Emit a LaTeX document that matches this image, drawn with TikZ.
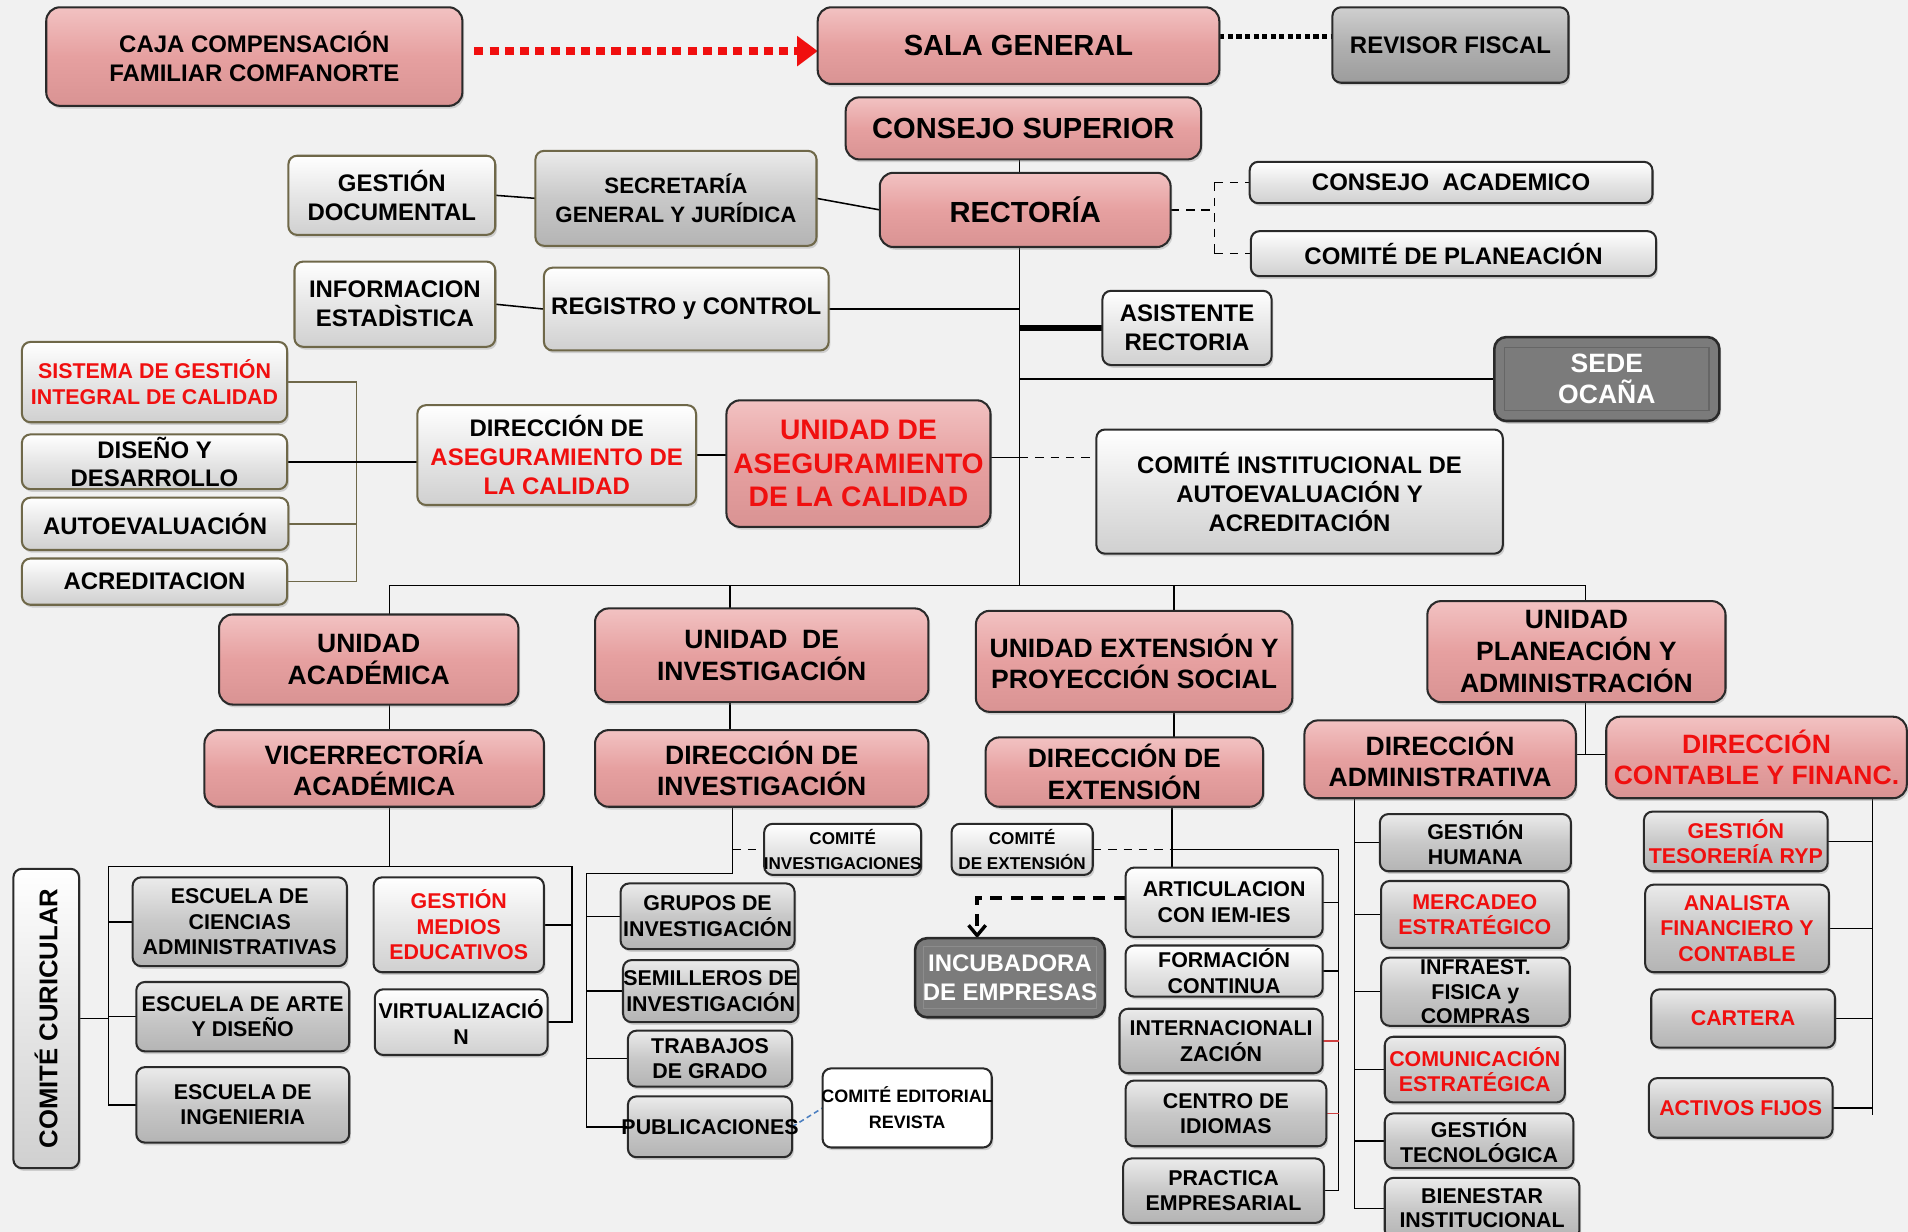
\documentclass[tikz,border=0pt]{standalone}
\usepackage{fontspec}
\setmainfont{Liberation Sans}
\usetikzlibrary{arrows.meta,shadows}
\definecolor{pinkT}{HTML}{F2C2C2}
\definecolor{pinkF}{HTML}{E6A0A0}
\definecolor{pinkB}{HTML}{D99393}
\definecolor{grayT}{HTML}{EBEBEB}
\definecolor{grayF}{HTML}{C8C8C8}
\definecolor{grayB}{HTML}{B4B4B4}
\definecolor{liteT}{HTML}{FFFFFF}
\definecolor{liteF}{HTML}{E6E6E6}
\definecolor{liteB}{HTML}{D0D0D0}
\definecolor{midT}{HTML}{CFCFCF}
\definecolor{midF}{HTML}{B0B0B0}
\definecolor{midB}{HTML}{9C9C9C}
\definecolor{darkF}{HTML}{7B7B7B}
\definecolor{bord}{HTML}{2A2A2A}
\definecolor{olv}{HTML}{6F6849}
\definecolor{txtred}{HTML}{F00F0F}
\definecolor{bgc}{HTML}{F1F1F1}
\definecolor{lnblue}{HTML}{4A7EC0}
\definecolor{lnred}{HTML}{D04040}
\pgfdeclarelayer{back}
\pgfsetlayers{back,main}
\tikzset{
  x=0.025cm, y=-0.025cm,
  boxbase/.style={draw=bord, line width=1.2pt, rounded corners=5pt, inner sep=0pt, outer sep=0pt,
     drop shadow={shadow xshift=1pt, shadow yshift=-1.6pt, opacity=0.3}},
  pinkbox/.style={boxbase, top color=pinkT, bottom color=pinkB, middle color=pinkF, rounded corners=8pt},
  graybox/.style={boxbase, top color=grayT, bottom color=grayB, middle color=grayF},
  litebox/.style={boxbase, top color=liteT, bottom color=liteB, middle color=liteF},
  midbox/.style={boxbase, top color=midT, bottom color=midB, middle color=midF},
  whitebox/.style={boxbase, fill=white},
  darkbox/.style={boxbase, fill=darkF, line width=1.5pt, rounded corners=7pt},
  olvb/.style={draw=olv},
  lbl/.style={align=center, inner sep=0pt},
  rt/.style={text=txtred},
  wt/.style={text=white},
  t17/.style={font=\fontsize{17}{20}\selectfont\bfseries},
  t16/.style={font=\fontsize{16}{19.5}\selectfont\bfseries},
  t155/.style={font=\fontsize{15.5}{18.5}\selectfont\bfseries},
  t15/.style={font=\fontsize{15}{18}\selectfont\bfseries},
  t14/.style={font=\fontsize{14}{17}\selectfont\bfseries},
  t13/.style={font=\fontsize{13}{17}\selectfont\bfseries},
  t125/.style={font=\fontsize{12.5}{14.8}\selectfont\bfseries},
  t105/.style={font=\fontsize{10.5}{15}\selectfont\bfseries},
  t10/.style={font=\fontsize{10}{15}\selectfont\bfseries},
  ln/.style={line width=0.9pt, draw=black},
  oln/.style={line width=0.9pt, draw=olv},
  dsh/.style={line width=0.9pt, draw=black, dash pattern=on 5pt off 4pt},
  dshthick/.style={line width=2pt, draw=black, dash pattern=on 7pt off 5pt},
}
\newcommand\mkbox[8]{%
  \node[#2, minimum width={(#5-#3)*0.025cm}, minimum height={(#6-#4)*0.025cm}] (#1) at ({(#3+#5)/2},{(#4+#6)/2}) {};
  \node[lbl,#7] at (#1.center) {#8};}
\begin{document}
\begin{tikzpicture}
\useasboundingbox (0,0) rectangle (1568,1012.4);
\begin{pgfonlayer}{back}
\fill[bgc] (0,0) rectangle (1568,1012.4);
\end{pgfonlayer}
% top
\mkbox{caja}{pinkbox}{38}{6}{380}{87}{t14}{CAJA COMPENSACIÓN\\FAMILIAR COMFANORTE}
\mkbox{sala}{pinkbox}{672}{6}{1002}{69}{t17}{SALA GENERAL}
\mkbox{rev}{midbox}{1095}{6}{1289}{68}{t14}{REVISOR FISCAL}
\mkbox{consup}{pinkbox}{695}{80}{987}{131}{t17}{CONSEJO SUPERIOR}
\mkbox{rect}{pinkbox}{723}{142}{962}{203}{t17}{RECTORÍA}
\mkbox{gdoc}{litebox,olvb}{237}{128}{407}{193}{t14}{GESTIÓN\\DOCUMENTAL}
\mkbox{sec}{graybox,olvb}{440}{124}{671}{202}{t13}{SECRETARÍA\\GENERAL Y JURÍDICA}
\mkbox{infest}{litebox,olvb}{242}{215}{407}{285}{t14}{INFORMACION\\ESTADÌSTICA}
\mkbox{regctl}{litebox,olvb}{447}{220}{681}{288}{t14}{REGISTRO y CONTROL}
\mkbox{consac}{litebox}{1027}{133}{1358}{167}{t14}{CONSEJO\ \ ACADEMICO}
\mkbox{complan}{litebox}{1028}{190}{1361}{227}{t14}{COMITÉ DE PLANEACIÓN}
\mkbox{asis}{litebox}{906}{239}{1045}{300}{t14}{ASISTENTE\\RECTORIA}
\mkbox{sede}{darkbox}{1228}{277}{1413}{346}{t155,wt}{SEDE\\OCAÑA}
\draw[draw=black!60, line width=0.8pt] ([shift={(6pt,-6pt)}]sede.north west) rectangle ([shift={(-6pt,6pt)}]sede.south east);
% quality
\mkbox{sgi}{litebox,olvb}{18}{281}{236}{347}{t125,rt}{SISTEMA DE GESTIÓN\\INTEGRAL DE CALIDAD}
\mkbox{dis}{litebox,olvb}{18}{357}{236}{402}{font=\fontsize{14}{16.4}\selectfont\bfseries}{DISEÑO Y\\DESARROLLO}
\mkbox{auto}{litebox,olvb}{18}{409}{237}{452}{t14}{AUTOEVALUACIÓN}
\mkbox{acr}{litebox,olvb}{18}{459}{236}{497}{t14}{ACREDITACION}
\mkbox{dasg}{litebox,olvb}{343}{333}{572}{415}{t14}{DIRECCIÓN DE\\\textcolor{txtred}{ASEGURAMIENTO DE}\\\textcolor{txtred}{LA CALIDAD}}
\mkbox{uasg}{pinkbox}{597}{329}{814}{433}{font=\fontsize{16.5}{19.6}\selectfont\bfseries,rt}{UNIDAD DE\\ASEGURAMIENTO\\DE LA CALIDAD}
\mkbox{cinst}{litebox}{901}{353}{1235}{455}{t14}{COMITÉ INSTITUCIONAL DE\\AUTOEVALUACIÓN Y\\ACREDITACIÓN}
% units
\mkbox{uaca}{pinkbox}{180}{505}{426}{579}{t155}{UNIDAD\\ACADÉMICA}
\mkbox{vic}{pinkbox}{168}{600}{447}{663}{t155}{VICERRECTORÍA\\ACADÉMICA}
\mkbox{uinv}{pinkbox}{489}{500}{763}{577}{t155}{UNIDAD\ \ DE\\INVESTIGACIÓN}
\mkbox{dinv}{pinkbox}{489}{600}{763}{663}{t155}{DIRECCIÓN DE\\INVESTIGACIÓN}
\mkbox{uext}{pinkbox}{802}{502}{1062}{585}{t155}{UNIDAD EXTENSIÓN Y\\PROYECCIÓN SOCIAL}
\mkbox{dext}{pinkbox}{810}{606}{1038}{663}{t155}{DIRECCIÓN DE\\EXTENSIÓN}
\mkbox{uplan}{pinkbox}{1173}{494}{1418}{577}{t155}{UNIDAD\\PLANEACIÓN Y\\ADMINISTRACIÓN}
\mkbox{dadm}{pinkbox}{1072}{592}{1295}{656}{t155}{DIRECCIÓN\\ADMINISTRATIVA}
\mkbox{dcon}{pinkbox}{1320}{589}{1567}{656}{t155,rt}{DIRECCIÓN\\CONTABLE Y FINANC.}
% academic
\mkbox{ccur}{litebox}{11}{714}{65}{960}{t15,rotate=90}{COMITÉ CURICULAR}
\mkbox{cca}{graybox}{109}{721}{285}{794}{t125}{ESCUELA DE\\CIENCIAS\\ADMINISTRATIVAS}
\mkbox{arte}{graybox}{112}{807}{287}{864}{t125}{ESCUELA DE ARTE\\Y DISEÑO}
\mkbox{ing}{graybox}{112}{877}{287}{939}{t125}{ESCUELA DE\\INGENIERIA}
\mkbox{gme}{litebox}{307}{721}{447}{799}{t125,rt}{GESTIÓN\\MEDIOS\\EDUCATIVOS}
\mkbox{virt}{litebox}{308}{813}{450}{867}{t125}{VIRTUALIZACIÓ\\N}
% investigation
\mkbox{cinv}{litebox}{628}{677}{757}{719}{t10}{COMITÉ\\INVESTIGACIONES}
\mkbox{cext}{litebox}{782}{677}{898}{719}{t10}{COMITÉ\\DE EXTENSIÓN}
\mkbox{gru}{graybox}{510}{726}{653}{780}{t125}{GRUPOS DE\\INVESTIGACIÓN}
\mkbox{sem}{graybox}{512}{789}{656}{840}{t125}{SEMILLEROS DE\\INVESTIGACIÓN}
\mkbox{trab}{graybox}{516}{847}{651}{893}{t125}{TRABAJOS\\DE GRADO}
\mkbox{pub}{graybox}{516}{901}{651}{951}{t125}{PUBLICACIONES}
\mkbox{ced}{whitebox}{676}{878}{815}{943}{t105}{COMITÉ EDITORIAL\\REVISTA}
% extension
\mkbox{art}{litebox}{925}{713}{1087}{770}{t125}{ARTICULACION\\CON IEM-IES}
\mkbox{form}{litebox}{925}{777}{1087}{819}{t125}{FORMACIÓN\\CONTINUA}
\mkbox{intl}{graybox}{920}{829}{1087}{882}{t125}{INTERNACIONALI\\ZACIÓN}
\mkbox{cid}{graybox}{925}{888}{1090}{942}{t125}{CENTRO DE\\IDIOMAS}
\mkbox{prac}{graybox}{923}{952}{1088}{1005}{t125}{PRACTICA\\EMPRESARIAL}
\mkbox{inc}{darkbox}{752}{771}{908}{836}{t14,wt}{INCUBADORA\\DE EMPRESAS}
\draw[draw=black!45, line width=0.8pt] ([shift={(5pt,-5pt)}]inc.north west) rectangle ([shift={(-5pt,5pt)}]inc.south east);
% administration
\mkbox{gh}{graybox}{1134}{669}{1291}{716}{t125}{GESTIÓN\\HUMANA}
\mkbox{merc}{graybox}{1135}{724}{1289}{779}{t125,rt}{MERCADEO\\ESTRATÉGICO}
\mkbox{infr}{graybox}{1135}{787}{1290}{843}{font=\fontsize{12.5}{14.3}\selectfont\bfseries}{INFRAEST.\\FISICA y\\COMPRAS}
\mkbox{com}{graybox}{1138}{852}{1286}{906}{t125,rt}{COMUNICACIÓN\\ESTRATÉGICA}
\mkbox{gtec}{graybox}{1138}{915}{1293}{960}{t125}{GESTIÓN\\TECNOLÓGICA}
\mkbox{bien}{graybox}{1138}{968}{1298}{1018}{font=\fontsize{12.5}{14}\selectfont\bfseries}{BIENESTAR\\INSTITUCIONAL}
\mkbox{tes}{graybox}{1351}{667}{1502}{716}{t125,rt}{GESTIÓN\\TESORERÍA RYP}
\mkbox{ana}{graybox}{1352}{727}{1503}{799}{t125,rt}{ANALISTA\\FINANCIERO Y\\CONTABLE}
\mkbox{cart}{graybox}{1357}{813}{1508}{861}{t125,rt}{CARTERA}
\mkbox{act}{graybox}{1355}{886}{1506}{935}{t125,rt}{ACTIVOS FIJOS}
% coordinates
\coordinate (tk) at (838,0);
\coordinate (bus) at (838,481);
\coordinate (dv) at (998,0);
\coordinate (qb) at (293,0);
\coordinate (ql) at (0,376);
\coordinate (d1) at (320,481);
\coordinate (d2) at (600,481);
\coordinate (d3) at (965,481);
\coordinate (d4) at (1303,481);
\coordinate (ah) at (320,712);
\coordinate (aL) at (89,712);
\coordinate (aR) at (470,712);
\coordinate (iv) at (602,718);
\coordinate (iL) at (482,718);
\coordinate (eh) at (963,698);
\coordinate (eR) at (1100,698);
\coordinate (ia) at (803,738);
\coordinate (pj) at (1303,620);
\coordinate (av) at (1113,0);
\coordinate (cv) at (1539,0);
\coordinate (cvb) at (1539,916);
\coordinate (ry) at (0,42);
\coordinate (by) at (0,30);
\begin{pgfonlayer}{back}
\draw[txtred, line width=4.6pt, dash pattern=on 5.3pt off 3.6pt, -{Triangle[length=12pt,width=17pt]}] ([xshift=7pt]caja.east |- ry) -- (sala.west |- ry);
\draw[line width=3pt, dash pattern=on 3pt off 2pt] (sala.east |- by) -- (rev.west |- by);
\draw[ln] (consup.south -| tk) -- (rect.north -| tk);
\draw[ln] (rect.south -| tk) -- (bus);
\draw[ln] (gdoc.east) -- (sec.west);
\draw[ln] (sec.east) -- (rect.west);
\draw[ln] (infest.east) -- (regctl.west);
\draw[ln] (regctl.east) -- (regctl.east -| tk);
\draw[dsh] (rect.east) -- (rect.east -| dv);
\draw[dsh] (consac.west -| dv) -- (complan.west -| dv);
\draw[dsh] (consac.west -| dv) -- (consac.west);
\draw[dsh] (complan.west -| dv) -- (complan.west);
\draw[ln, line width=3pt] (asis.west -| tk) -- (asis.west);
\draw[ln] (sede.west -| tk) -- (sede.west);
\draw[oln] (sgi.east) -- (sgi.east -| qb) -- (acr.east -| qb) -- (acr.east);
\draw[oln] (auto.east) -- (auto.east -| qb);
\draw[ln, line width=1.4pt] (dis.east) -- (dis.east -| dasg.west);
\draw[ln] (dasg.east) -- (dasg.east -| uasg.west);
\draw[ln] (uasg.east |- ql) -- (tk |- ql);
\draw[dsh] (tk |- ql) -- (cinst.west |- ql);
\draw[ln] (d1) -- (d4);
\draw[ln] (d1) -- (d1 |- uaca.north);
\draw[ln] (d2) -- (d2 |- uinv.north);
\draw[ln] (d3) -- (d3 |- uext.north);
\draw[ln] (d4) -- (d4 |- uplan.north);
% academic
\draw[ln] (uaca.south -| d1) -- (vic.north -| d1);
\draw[ln] (vic.south -| d1) -- (ah);
\draw[ln] (aL) -- (aR);
\draw[ln] (aL) |- (ing.west);
\draw[ln] (aL |- cca.west) -- (cca.west);
\draw[ln] (aL |- arte.west) -- (arte.west);
\draw[ln] (ccur.east) -- (ccur.east -| aL);
\draw[ln] (aR) |- (virt.east);
\draw[ln] (gme.east) -- (gme.east -| aR);
% investigation
\draw[ln] (uinv.south -| d2) -- (dinv.north -| d2);
\draw[ln] (dinv.south -| iv) -- (iv) -- (iL) |- (pub.west);
\draw[ln] (iL |- gru.west) -- (gru.west);
\draw[ln] (iL |- sem.west) -- (sem.west);
\draw[ln] (iL |- trab.west) -- (trab.west);
\draw[dsh] (iv |- cinv.west) -- (cinv.west);
\draw[line width=0.9pt, lnblue, dash pattern=on 3pt off 2pt] (pub.east) -- (ced.west);
% extension
\draw[ln] (uext.south -| d3) -- (dext.north -| d3);
\draw[ln] (dext.south -| eh) -- (art.north -| eh);
\draw[dsh] (cext.east |- eh) -- (eh);
\draw[ln] (eh) -- (eR) |- (prac.east);
\draw[ln] (art.east) -- (art.east -| eR);
\draw[ln] (form.east) -- (form.east -| eR);
\draw[line width=0.6pt, lnred] (intl.east) -- (intl.east -| eR);
\draw[line width=0.6pt, lnred] (cid.east) -- (cid.east -| eR);
\draw[dshthick, -{Straight Barb[length=6pt,width=10pt]}] (art.west |- ia) -- (ia) -- (ia |- inc.north);
% planning
\draw[ln] (uplan.south -| d4) -- (pj);
\draw[ln] (dadm.east |- pj) -- (dcon.west |- pj);
\draw[ln] (dadm.south -| av) |- (bien.west);
\draw[ln] (av |- gh.west) -- (gh.west);
\draw[ln] (av |- merc.west) -- (merc.west);
\draw[ln] (av |- infr.west) -- (infr.west);
\draw[ln] (av |- com.west) -- (com.west);
\draw[ln] (av |- gtec.west) -- (gtec.west);
\draw[ln] (dcon.south -| cv) -- (cvb);
\draw[ln] (tes.east) -- (tes.east -| cv);
\draw[ln] (ana.east) -- (ana.east -| cv);
\draw[ln] (cart.east) -- (cart.east -| cv);
\draw[ln] (act.east) -- (act.east -| cv);
\end{pgfonlayer}
\end{tikzpicture}
\end{document}
